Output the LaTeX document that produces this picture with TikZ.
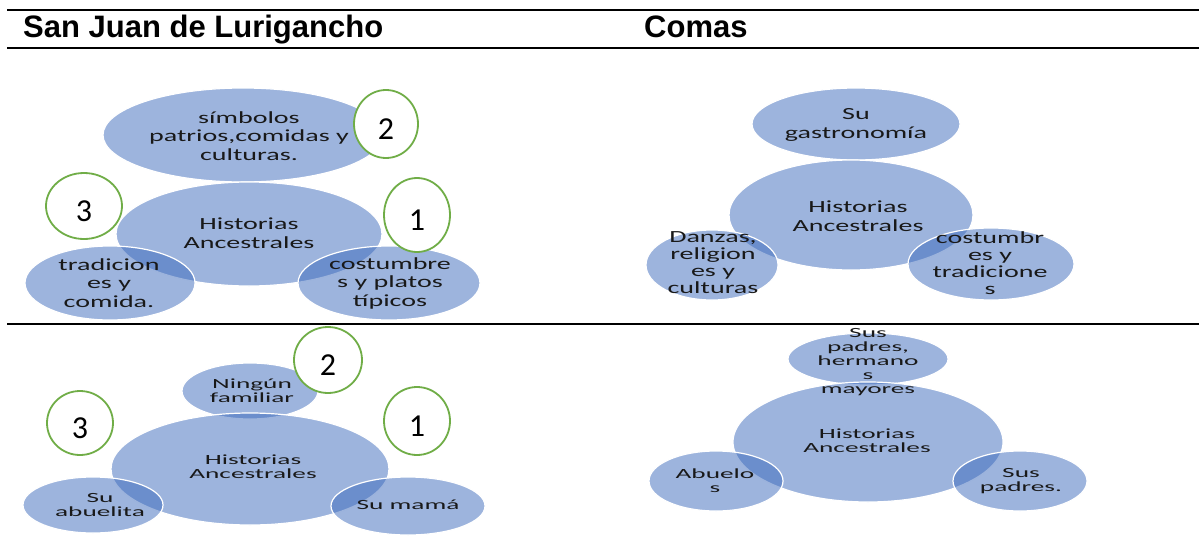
\documentclass[tikz,border=0pt]{standalone}
\usepackage{fontspec}
\setmainfont{Liberation Sans}
\newfontfamily\wideA[FakeStretch=1.65]{Carlito}
\newfontfamily\wideB[FakeStretch=1.95]{Carlito}
\newfontfamily\digitfont{Carlito}
\usetikzlibrary{shapes.geometric}
\definecolor{blobblue}{RGB}{59,105,187}
\definecolor{numgreen}{RGB}{112,173,71}
\begin{document}
\begin{tikzpicture}[x=1pt, y=-1pt,
    blob/.style={ellipse, fill=blobblue, fill opacity=.5, draw=white, line width=1.2pt, inner sep=0pt},
    num/.style={ellipse, draw=numgreen, line width=1.8pt, fill=white, inner sep=0pt, text height=31pt, text depth=0pt,
        font=\digitfont\fontsize{32}{32}\selectfont},
    lblA/.style={align=center, inner sep=0pt, text=black!90, font=\wideA\fontsize{17}{18.5}\selectfont},
    lblB/.style={align=center, inner sep=0pt, text=black!90, font=\wideB\fontsize{14}{13.8}\selectfont},
    head/.style={anchor=base west, inner sep=0pt, font=\bfseries\fontsize{31}{31}\selectfont}]
        \useasboundingbox (0,0) rectangle (1199,546);

        %%rules
        \draw[line width=2pt] (7,10) to (1199,10);
        \draw[line width=2pt] (7,48) to (1199,48);
        \draw[line width=2pt] (7,324) to (1199,324);
        \node[head] (sjl) at (23,37) {San Juan de Lurigancho};
        \node[head] (comas) at (644,37) {Comas};

        %%SJL1
        \node[blob, minimum width=280pt, minimum height=94pt] (sjlSimb) at (243,135) {};
        \node[blob, minimum width=266pt, minimum height=104pt] (sjlHist) at (249,234) {};
        \node[blob, minimum width=170pt, minimum height=74pt] (sjlTrad) at (110,283) {};
        \node[blob, minimum width=182pt, minimum height=74pt] (sjlCost) at (389,283) {};
            \node[lblA] (sjlSimbTxt) at (249,136) {símbolos\\patrios,comidas y\\culturas.};
            \node[lblA] (sjlHistTxt) at (249,233) {Historias\\Ancestrales};
            \node[lblA] (sjlTradTxt) at (109,283) {tradicion\\es y\\comida.};
            \node[lblA] (sjlCostTxt) at (390,283) {costumbre\\s y platos\\típicos};
        \node[num, minimum width=64pt, minimum height=68pt] (sjlTwo) at (386,124) {2};
        \node[num, minimum width=76pt, minimum height=66pt] (sjlThree) at (84,206) {3};
        \node[num, minimum width=66pt, minimum height=74pt] (sjlOne) at (417,215) {1};

        %%COM1
        \node[blob, minimum width=208pt, minimum height=72pt] (comGast) at (856,124) {};
        \node[blob, minimum width=244pt, minimum height=110pt] (comHist) at (851,215) {};
        \node[blob, minimum width=132pt, minimum height=70pt] (comDanz) at (712,265) {};
        \node[blob, minimum width=166pt, minimum height=72pt] (comCost) at (991,264) {};
            \node[lblA] (comGastTxt) at (856,125) {Su\\gastronomía};
            \node[lblA] (comHistTxt) at (858,216) {Historias\\Ancestrales};
            \node[lblA, font=\wideA\fontsize{17}{17}\selectfont] (comDanzTxt) at (713,263) {Danzas,\\religion\\es y\\culturas};
            \node[lblA, font=\wideA\fontsize{17}{17}\selectfont] (comCostTxt) at (990,263) {costumbr\\es y\\tradicione\\s};

        %%SJL2
        \node[blob, minimum width=136pt, minimum height=56pt] (sjlNing) at (250,391) {};
        \node[blob, minimum width=278pt, minimum height=112pt] (sjlHistB) at (250,469) {};
        \node[blob, minimum width=140pt, minimum height=56pt] (sjlAbu) at (93,505) {};
        \node[blob, minimum width=154pt, minimum height=58pt] (sjlMama) at (408,506) {};
            \node[lblB] (sjlNingTxt) at (252,391) {Ningún\\familiar};
            \node[lblB] (sjlHistBTxt) at (253,467) {Historias\\Ancestrales};
            \node[lblB] (sjlAbuTxt) at (100,505) {Su\\abuelita};
            \node[lblB] (sjlMamaTxt) at (408,505) {Su mamá};
        \node[num, minimum width=68pt, minimum height=66pt] (sjlTwoB) at (328,360) {2};
        \node[num, minimum width=66pt, minimum height=64pt] (sjlThreeB) at (80,423) {3};
        \node[num, minimum width=66pt, minimum height=68pt] (sjlOneB) at (417,421) {1};

        %%COM2
        \node[blob, minimum width=160pt, minimum height=52pt] (comPad) at (868,359) {};
        \node[blob, minimum width=270pt, minimum height=120pt] (comHistB) at (868,442) {};
        \node[blob, minimum width=134pt, minimum height=60pt] (comAbu) at (716,481) {};
        \node[blob, minimum width=134pt, minimum height=60pt] (comPadB) at (1020,481) {};
            \node[lblB, font=\wideB\fontsize{14}{14}\selectfont] (comPadTxt) at (868,362) {Sus\\padres,\\hermano\\s\\mayores};
            \node[lblB] (comHistBTxt) at (867,441) {Historias\\Ancestrales};
            \node[lblB] (comAbuTxt) at (715,481) {Abuelo\\s};
            \node[lblB] (comPadBTxt) at (1021,481) {Sus\\padres.};
\end{tikzpicture}
\end{document}
